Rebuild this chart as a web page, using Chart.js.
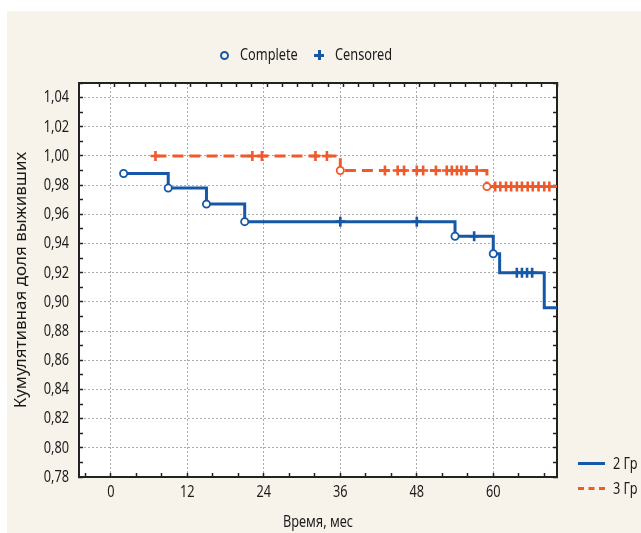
<!DOCTYPE html>
<html>
<head>
<meta charset="utf-8">
<script src="https://cdn.jsdelivr.net/npm/chart.js@4.4.1/dist/chart.umd.min.js"></script>
<style>
    body { margin: 0; background: #fff; }
    #wrap { position: relative; width: 641px; height: 533px; overflow: hidden;
        font-family: 'Noto Sans', sans-serif; font-size: 17px; color: #1a1a1a; }
    #bg { position: absolute; left: 7px; top: 11px; right: 0; bottom: 0; background: #f7f3eb; }
    #c { position: absolute; left: 0; top: 0; }
    .txt { position: absolute; line-height: 20px; white-space: nowrap; transform: scaleX(0.75); transform-origin: 0 50%; }
    .circ { position: absolute; width: 5px; height: 5px; border: 2px solid #1558a8; border-radius: 50%; }
    .plus { position: absolute; width: 10px; height: 10px; }
    .plus:before, .plus:after { content: ''; position: absolute; background: #1558a8; }
    .plus:before { left: 0; top: 4px; width: 10px; height: 3px; }
    .plus:after { left: 4px; top: 0; width: 3px; height: 10px; }
    .ln { position: absolute; width: 27px; height: 0; }
</style>
</head>
<body>
<div id="wrap">
    <div id="bg"></div>
    <canvas id="c" width="641" height="533"></canvas>
    <div class="circ" style="left:220px;top:51px;"></div>
    <div class="txt" style="left:240px;top:44px;">Complete</div>
    <div class="plus" style="left:314px;top:50px;"></div>
    <div class="txt" style="left:335px;top:44px;">Censored</div>
    <div class="ln" style="left:578px;top:462px;border-top:3px solid #1558a8;"></div>
    <div class="txt" style="left:613px;top:453px;">2 Гр</div>
    <div class="ln" style="left:578px;top:487px;border-top:3px dashed #f05a2a;"></div>
    <div class="txt" style="left:613px;top:478px;">3 Гр</div>
</div>
<script>
    "use strict";
    // group 2 (blue): step points, events and censored times, months
    const blueTimes = [2, 9, 15, 21, 54, 60, 61, 68, 70];
    const blueSurv = [0.988, 0.978, 0.967, 0.955, 0.945, 0.933, 0.920, 0.896, 0.896];
    const blueComplete = [2, 9, 15, 21, 54, 60];
    const blueCensored = [36, 48, 57, 63.7, 64.5, 65.3, 66.1];
    // group 3 (orange)
    const orangeTimes = [7, 36, 59, 70];
    const orangeSurv = [1.000, 0.990, 0.979, 0.979];
    const orangeComplete = [36, 59];
    const orangeCensored = [7, 22.2, 23.7, 32.1, 33.9, 43, 45, 46, 48, 49, 51, 52.7, 53.5, 54.3, 55, 55.8, 57.4,
        60.3, 61.1, 62, 62.8, 63.7, 64.5, 65.4, 66.2, 67.1, 68, 68.8];
    // axis ticks
    const xMajorTicks = [0, 12, 24, 36, 48, 60];
    const yMajorTicks = [0.78, 0.80, 0.82, 0.84, 0.86, 0.88, 0.90, 0.92, 0.94, 0.96, 0.98, 1.00, 1.02, 1.04];
    const yTitle = 'Кумулятивная доля выживших';
    const xTitle = 'Время, мес';

    const blue = '#1558a8';
    const orange = '#f05a2a';
    const frame = '#222';
    const squeeze = 0.75; // narrow the glyphs, the original uses a condensed face

    function stepPoints(times, surv) {
        return times.map(function (t, i) {
            return { x: t, y: surv[i] };
        });
    }
    function survAt(times, surv, t) {
        let s = surv[0];
        for (let i = 0; i < times.length; i++) {
            if (times[i] <= t + 1e-9) s = surv[i];
        }
        return s;
    }
    function marks(list, times, surv) {
        return list.map(function (t) {
            return { x: t, y: survAt(times, surv, t) };
        });
    }
    function isMajor(list, v) {
        return list.some(function (m) { return Math.abs(m - v) < 1e-6; });
    }
    function yTicks(scale) {
        const out = [];
        yMajorTicks.forEach(function (m) {
            out.push({ value: m });
            out.push({ value: Math.round((m + 0.01) * 100) / 100 });
        });
        scale.ticks = out;
    }
    function xTicks(scale) {
        const out = [];
        for (let v = -4; v <= 68; v += 4) out.push({ value: v });
        scale.ticks = out;
    }

    const plotBg = {
        id: 'plotBg',
        beforeDraw: function (chart) {
            const a = chart.chartArea;
            chart.ctx.save();
            chart.ctx.fillStyle = '#fff';
            chart.ctx.fillRect(a.left, a.top, a.right - a.left, a.bottom - a.top);
            chart.ctx.restore();
        }
    };

    Chart.defaults.font.family = "'Noto Sans', sans-serif";
    Chart.defaults.font.size = 17;
    Chart.defaults.color = '#1a1a1a';

    const context = document.getElementById('c').getContext('2d');
    const rawFillText = context.fillText;
    context.fillText = function (text, x, y, maxWidth) {
        const k = text === yTitle ? 1 : squeeze;
        this.save();
        this.translate(x, y);
        this.scale(k, 1);
        if (maxWidth === undefined) {
            rawFillText.call(this, text, 0, 0);
        } else {
            rawFillText.call(this, text, 0, 0, maxWidth / k);
        }
        this.restore();
    };

    const chart = new Chart(context, {
        type: 'line',
        data: {
            datasets: [{
                label: 'Complete 2',
                type: 'scatter',
                data: marks(blueComplete, blueTimes, blueSurv),
                pointStyle: 'circle',
                pointRadius: 3.6,
                borderWidth: 1.8,
                borderColor: blue,
                backgroundColor: '#fff',
                showLine: false
            }, {
                label: 'Complete 3',
                type: 'scatter',
                data: marks(orangeComplete, orangeTimes, orangeSurv),
                pointStyle: 'circle',
                pointRadius: 3.6,
                borderWidth: 1.8,
                borderColor: orange,
                backgroundColor: '#fff',
                showLine: false
            }, {
                label: 'Censored 2',
                type: 'scatter',
                data: marks(blueCensored, blueTimes, blueSurv),
                pointStyle: 'cross',
                pointRadius: 5,
                borderWidth: 2.6,
                borderColor: blue,
                showLine: false
            }, {
                label: 'Censored 3',
                type: 'scatter',
                data: marks(orangeCensored, orangeTimes, orangeSurv),
                pointStyle: 'cross',
                pointRadius: 5,
                borderWidth: 2.6,
                borderColor: orange,
                showLine: false
            }, {
                label: '2 Гр',
                data: stepPoints(blueTimes, blueSurv),
                stepped: 'before',
                borderColor: blue,
                borderWidth: 3,
                pointRadius: 0,
                fill: false
            }, {
                label: '3 Гр',
                data: stepPoints(orangeTimes, orangeSurv),
                stepped: 'before',
                borderColor: orange,
                borderWidth: 3,
                borderDash: [11, 6],
                pointRadius: 0,
                fill: false
            }]
        },
        options: {
            responsive: false,
            animation: false,
            devicePixelRatio: 1,
            layout: { padding: { top: 83, right: 84, left: 0, bottom: 0 } },
            scales: {
                x: {
                    type: 'linear',
                    position: 'bottom',
                    min: -5,
                    max: 70,
                    afterBuildTicks: xTicks,
                    afterFit: function (s) { s.height = 56; },
                    ticks: {
                        padding: 8.5,
                        maxRotation: 0,
                        autoSkip: false,
                        callback: function (v) { return isMajor(xMajorTicks, v) ? String(v) : ''; }
                    },
                    grid: {
                        color: function (c) { return c.tick && isMajor(xMajorTicks, c.tick.value) ? '#aaa' : 'transparent'; },
                        lineWidth: 1,
                        tickLength: -4,
                        tickColor: frame,
                        tickWidth: 1.5
                    },
                    border: { color: frame, width: 2, dash: [2, 2] },
                    title: { display: true, text: xTitle, padding: { top: 0, bottom: 1 } }
                },
                x2: {
                    type: 'linear',
                    position: 'top',
                    min: -5,
                    max: 70,
                    afterBuildTicks: function (scale) {
                        const out = [];
                        for (let k = 0; k <= 30; k++) out.push({ value: 70 - 2.394 * k });
                        scale.ticks = out;
                    },
                    afterFit: function (s) { s.height = 0; },
                    ticks: { display: false },
                    grid: { drawOnChartArea: false, tickLength: -4, tickColor: frame, tickWidth: 1.5 },
                    border: { color: frame, width: 2 }
                },
                y: {
                    type: 'linear',
                    position: 'left',
                    min: 0.78,
                    max: 1.05,
                    afterBuildTicks: yTicks,
                    afterFit: function (s) { s.width = 79; },
                    ticks: {
                        padding: 14,
                        autoSkip: false,
                        callback: function (v) {
                            return isMajor(yMajorTicks, v) ? v.toFixed(2).replace('.', ',') : '';
                        }
                    },
                    grid: {
                        color: function (c) { return c.tick && isMajor(yMajorTicks, c.tick.value) ? '#aaa' : 'transparent'; },
                        lineWidth: 1,
                        tickLength: -4,
                        tickColor: frame,
                        tickWidth: 1.5
                    },
                    border: { color: frame, width: 2, dash: [2, 2] },
                    title: { display: true, text: yTitle, padding: { top: 11, bottom: 0 } }
                },
                y2: {
                    type: 'linear',
                    position: 'right',
                    min: 0.78,
                    max: 1.05,
                    afterBuildTicks: yTicks,
                    afterFit: function (s) { s.width = 0; },
                    ticks: { display: false },
                    grid: { drawOnChartArea: false, tickLength: -4, tickColor: frame, tickWidth: 1.5 },
                    border: { color: frame, width: 2 }
                }
            },
            plugins: {
                legend: { display: false },
                tooltip: { enabled: false }
            }
        },
        plugins: [plotBg]
    });
</script>
</body>
</html>
